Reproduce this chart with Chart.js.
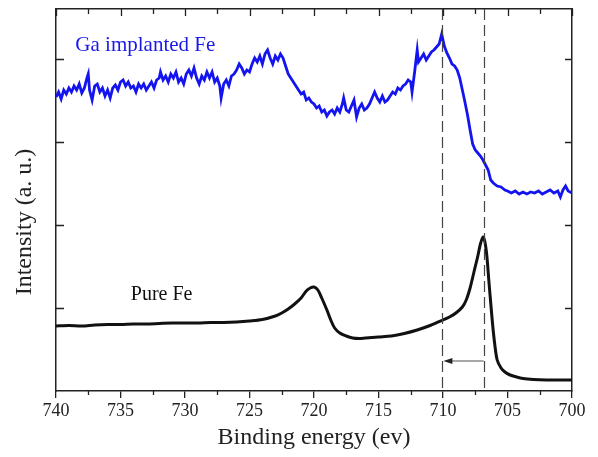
<!DOCTYPE html>
<html>
<head>
<meta charset="utf-8">
<script src="https://cdn.jsdelivr.net/npm/chart.js@4.4.1/dist/chart.umd.min.js"></script>
<style>
  html, body { margin: 0; padding: 0; background: #fff; }
  #xpsChart { display: block; }
</style>
</head>
<body>
<canvas id="xpsChart" width="598" height="457"></canvas>
<script>
// binding energy (eV) and intensity (a.u.)
const gaEnergy = [
  740.0, 739.8, 739.6, 739.4, 739.2, 739.0, 738.8, 738.6, 738.4, 738.2,
  738.0, 737.8, 737.6, 737.5, 737.4, 737.2, 737.0, 736.8, 736.6, 736.4,
  736.2, 736.0, 735.8, 735.6, 735.4, 735.2, 735.0, 734.8, 734.6, 734.4,
  734.2, 734.0, 733.8, 733.6, 733.4, 733.2, 733.0, 732.8, 732.6, 732.4,
  732.2, 732.0, 731.9, 731.7, 731.5, 731.3, 731.1, 730.9, 730.7, 730.5,
  730.3, 730.1, 729.9, 729.7, 729.5, 729.3, 729.1, 728.9, 728.7, 728.5,
  728.3, 728.1, 727.9, 727.7, 727.5, 727.3, 727.2, 727.0, 726.8, 726.6,
  726.4, 726.2, 726.0, 725.8, 725.6, 725.4, 725.2, 725.0, 724.8, 724.6,
  724.4, 724.2, 724.0, 723.8, 723.6, 723.4, 723.2, 723.0, 722.8, 722.6,
  722.4, 722.2, 722.0, 721.8, 721.6, 721.4, 721.2, 721.0, 720.8, 720.6,
  720.4, 720.2, 720.0, 719.8, 719.6, 719.4, 719.2, 719.0, 718.8, 718.6,
  718.4, 718.2, 718.0, 717.8, 717.7, 717.5, 717.3, 717.1, 716.9, 716.7,
  716.5, 716.3, 716.1, 715.9, 715.7, 715.5, 715.3, 715.1, 714.9, 714.7,
  714.5, 714.3, 714.1, 713.9, 713.7, 713.5, 713.3, 713.1, 712.9, 712.7,
  712.5, 712.4, 712.2, 712.0, 711.9, 711.7, 711.5, 711.3, 711.1, 710.9,
  710.7, 710.5, 710.3, 710.1, 709.9, 709.7, 709.5, 709.3, 709.1, 708.9,
  708.7, 708.5, 708.3, 708.1, 707.9, 707.7, 707.5, 707.3, 707.1, 706.9,
  706.7, 706.5, 706.3, 706.1, 705.8, 705.5, 705.2, 705.0, 704.7, 704.4,
  704.1, 703.8, 703.5, 703.2, 702.9, 702.6, 702.3, 702.0, 701.7, 701.4,
  701.1, 700.9, 700.7, 700.5, 700.3, 700.0
];
const gaIntensity = [
  294, 299, 292, 301, 297, 303, 299, 305, 301, 307,
  298, 303, 313, 317, 301, 291, 305, 307, 299, 303,
  295, 301, 293, 303, 306, 301, 309, 311, 305, 309,
  303, 305, 299, 307, 303, 307, 301, 305, 309, 303,
  311, 313, 319, 311, 315, 309, 317, 313, 319, 309,
  313, 307, 317, 321, 315, 323, 313, 307, 315, 311,
  319, 313, 319, 309, 313, 305, 293, 307, 311, 305,
  315, 317, 321, 327, 323, 317, 321, 319, 327, 333,
  329, 335, 327, 337, 341, 333, 327, 335, 331, 337,
  333, 325, 317, 313, 309, 305, 301, 297, 299, 291,
  293, 289, 287, 283, 285, 279, 281, 275, 279, 281,
  277, 283, 279, 287, 293, 281, 279, 285, 291, 274,
  283, 287, 281, 283, 287, 293, 299, 293, 289, 295,
  289, 291, 295, 299, 297, 303, 301, 305, 307, 311,
  309, 299, 319, 341, 329, 333, 337, 331, 335, 339,
  341, 344, 347, 357, 345, 338, 333, 327, 325, 321,
  313, 301, 289, 276, 261, 247, 241, 238, 235, 231,
  226, 221, 211, 208, 205, 204, 201, 200, 198, 200,
  197, 199, 197, 199, 198, 200, 197, 199, 201, 198,
  200, 194, 201, 205, 200, 198
];
const pureEnergy = [
  740.0, 739.0, 738.0, 737.0, 736.0, 735.0, 734.0, 733.0, 732.0, 731.0,
  730.0, 729.0, 728.0, 727.0, 726.0, 725.0, 724.0, 723.0, 722.5, 722.0,
  721.5, 721.0, 720.6, 720.3, 720.0, 719.7, 719.4, 719.0, 718.7, 718.4,
  718.0, 717.5, 717.0, 716.5, 716.0, 715.0, 714.0, 713.0, 712.0, 711.0,
  710.0, 709.5, 709.0, 708.5, 708.2, 707.9, 707.6, 707.3, 707.1, 706.9,
  706.75, 706.6, 706.45, 706.3, 706.15, 706.0, 705.8, 705.5, 705.2, 704.8,
  704.3, 703.8, 703.0, 702.0, 701.0, 700.0
];
const pureIntensity = [
  65, 65.5, 65, 66, 66.5, 66.5, 67, 67, 67.5, 68,
  68, 68, 68.5, 68.5, 69, 70, 71.5, 75, 78, 82,
  87, 93, 100, 103, 104, 101, 93, 81, 71, 63,
  58, 55, 53, 52.5, 53, 54, 55, 57.5, 61, 65.5,
  71, 74, 78, 84, 91, 103, 119, 135, 147, 154,
  149, 135, 111, 88, 66, 48, 31, 23, 19, 16,
  14, 12.5, 11.5, 11, 11, 11
];
const xMajorTicks = [740, 735, 730, 725, 720, 715, 710, 705, 700];
const xMinorTicks = [737.5, 732.5, 727.5, 722.5, 717.5, 712.5, 707.5, 702.5];
const yTicks = [83, 166, 249, 332];
const shiftLines = [710.05, 706.85];
const shiftArrowLevel = 30;

const serif = '"Liberation Serif", "DejaVu Serif", serif';

const decorations = {
  id: 'decorations',
  afterDatasetsDraw(chart) {
    const { ctx, chartArea: a, scales: { x, y } } = chart;
    ctx.save();

    // dashed guide lines at the two peak positions
    ctx.strokeStyle = '#444';
    ctx.lineWidth = 1.2;
    ctx.setLineDash([11, 5]);
    shiftLines.forEach(e => {
      const px = Math.round(x.getPixelForValue(e)) + 0.5;
      ctx.beginPath();
      ctx.moveTo(px, a.top);
      ctx.lineTo(px, a.bottom);
      ctx.stroke();
    });
    ctx.setLineDash([]);

    // shift arrow
    const ay = y.getPixelForValue(shiftArrowLevel);
    const xFrom = x.getPixelForValue(shiftLines[1]);
    const xTo = x.getPixelForValue(shiftLines[0]);
    ctx.strokeStyle = '#8a8a8a';
    ctx.lineWidth = 1.3;
    ctx.beginPath();
    ctx.moveTo(xFrom, ay);
    ctx.lineTo(xTo + 6, ay);
    ctx.stroke();
    ctx.fillStyle = '#222';
    ctx.beginPath();
    ctx.moveTo(xTo + 1, ay);
    ctx.lineTo(xTo + 10, ay - 3);
    ctx.lineTo(xTo + 10, ay + 3);
    ctx.closePath();
    ctx.fill();

    // inward ticks on the frame
    ctx.strokeStyle = '#222';
    ctx.lineWidth = 1.3;
    ctx.beginPath();
    yTicks.forEach(v => {
      const py = Math.round(y.getPixelForValue(v)) + 0.5;
      ctx.moveTo(a.left, py); ctx.lineTo(a.left + 8, py);
      ctx.moveTo(a.right, py); ctx.lineTo(a.right - 7, py);
    });
    xMajorTicks.forEach(e => {
      const px = Math.round(x.getPixelForValue(e)) + 0.5;
      ctx.moveTo(px, a.top); ctx.lineTo(px, a.top + 7);
    });
    xMinorTicks.forEach(e => {
      const px = Math.round(x.getPixelForValue(e)) + 0.5;
      ctx.moveTo(px, a.top); ctx.lineTo(px, a.top + 5);
      ctx.moveTo(px, a.bottom); ctx.lineTo(px, a.bottom + 4);
    });
    ctx.stroke();

    // series labels
    ctx.textBaseline = 'middle';
    ctx.textAlign = 'left';
    ctx.font = '21px ' + serif;
    ctx.fillStyle = '#1a1ae8';
    ctx.fillText('Ga implanted Fe', x.getPixelForValue(738.5), y.getPixelForValue(346));
    ctx.font = '20px ' + serif;
    ctx.fillStyle = '#111';
    ctx.fillText('Pure Fe', x.getPixelForValue(734.2), y.getPixelForValue(96));

    // y axis title
    ctx.translate(25, 222);
    ctx.rotate(-Math.PI / 2);
    ctx.textAlign = 'center';
    ctx.font = '24px ' + serif;
    ctx.fillStyle = '#222';
    ctx.fillText('Intensity (a. u.)', 0, 0);
    ctx.restore();
  }
};

new Chart(document.getElementById('xpsChart'), {
  type: 'line',
  data: {
    datasets: [
      {
        label: 'Ga implanted Fe',
        data: gaEnergy.map((e, i) => ({ x: e, y: gaIntensity[i] })),
        borderColor: '#1414f0',
        borderWidth: 2.8,
        pointRadius: 0,
        tension: 0
      },
      {
        label: 'Pure Fe',
        data: pureEnergy.map((e, i) => ({ x: e, y: pureIntensity[i] })),
        borderColor: '#111',
        borderWidth: 3,
        pointRadius: 0,
        tension: 0.3
      }
    ]
  },
  options: {
    responsive: false,
    animation: false,
    layout: { padding: 0 },
    plugins: {
      legend: { display: false },
      tooltip: { enabled: false }
    },
    scales: {
      x: {
        type: 'linear',
        position: 'bottom',
        min: 700,
        max: 740,
        reverse: true,
        afterFit: s => { s.height = 66; },
        ticks: {
          stepSize: 5,
          color: '#222',
          padding: 2,
          font: { family: serif, size: 18 }
        },
        grid: {
          display: true,
          drawOnChartArea: false,
          drawTicks: true,
          tickLength: 7,
          color: '#222',
          lineWidth: 1.3
        },
        border: { display: true, color: '#222', width: 1.5 },
        title: {
          display: true,
          text: 'Binding energy (ev)',
          color: '#222',
          font: { family: serif, size: 24 },
          padding: { top: 0, bottom: 5 }
        }
      },
      xTop: {
        type: 'linear',
        position: 'top',
        min: 700,
        max: 740,
        reverse: true,
        afterFit: s => { s.height = 9; },
        ticks: { display: false },
        grid: { display: false },
        border: { display: true, color: '#222', width: 1.5 }
      },
      y: {
        type: 'linear',
        position: 'left',
        min: 0,
        max: 382,
        afterFit: s => { s.width = 56; },
        ticks: { display: false },
        grid: { display: false },
        border: { display: true, color: '#222', width: 1.5 }
      },
      yRight: {
        type: 'linear',
        position: 'right',
        min: 0,
        max: 382,
        afterFit: s => { s.width = 26; },
        ticks: { display: false },
        grid: { display: false },
        border: { display: true, color: '#222', width: 1.5 }
      }
    }
  },
  plugins: [decorations]
});
</script>
</body>
</html>
